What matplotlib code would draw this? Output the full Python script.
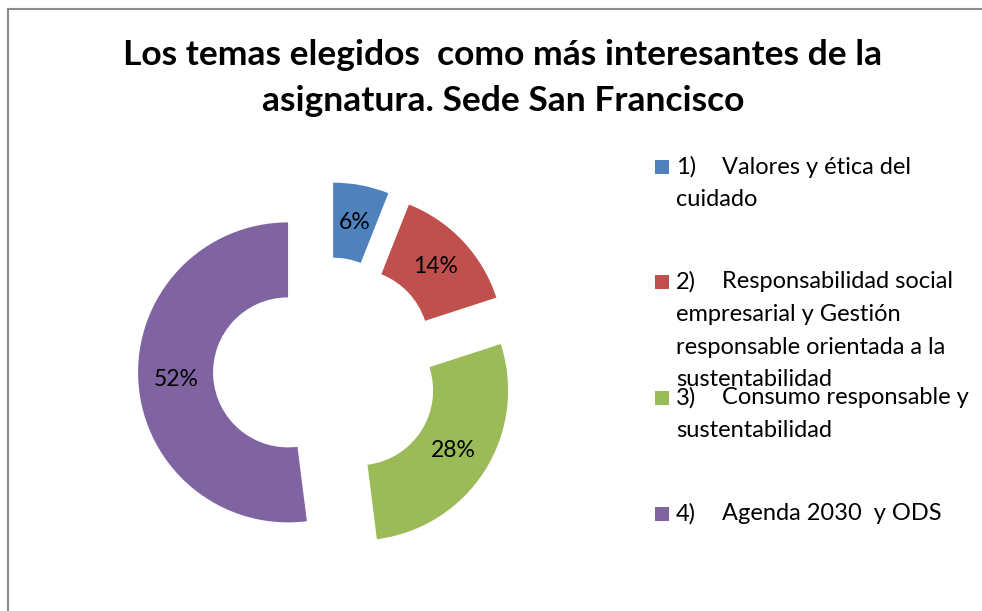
import matplotlib.pyplot as plt
from matplotlib.patches import Rectangle

# datos
valores = [6, 14, 28, 52]
colores = ['#4F81BD', '#C0504D', '#9BBB59', '#8064A2']
numeros = ['1)', '2)', '3)', '4)']
leyenda = [
    ['Valores y ética del', 'cuidado'],
    ['Responsabilidad social', 'empresarial y Gestión', 'responsable orientada a la', 'sustentabilidad'],
    ['Consumo responsable y', 'sustentabilidad'],
    ['Agenda 2030  y ODS'],
]
titulo = 'Los temas elegidos  como más interesantes de la\nasignatura. Sede San Francisco'

plt.rcParams['font.family'] = ['Lato', 'DejaVu Sans']

W, H = 982, 611
fig = plt.figure(figsize=(W / 100, H / 100), dpi=100)
ax = fig.add_axes([0, 0, 1, 1])

# anillo (todas las porciones separadas como en Excel)
cx, cy, R = 326, H - 370, 150
wedges, _, textos = ax.pie(valores, colors=colores, startangle=90, counterclock=False,
                           center=(cx, cy), radius=R, explode=[38] * 4,
                           wedgeprops=dict(width=R * 0.5, linewidth=0),
                           autopct='%1.0f%%', pctdistance=0.75)
for t in textos:
    t.set_fontsize(16.5)
    t.set_color('black')

ax.set_xlim(0, W)
ax.set_ylim(0, H)
ax.set_aspect('equal')
ax.axis('off')

# borde del área del gráfico
ax.add_patch(Rectangle((8, -20), W + 50, H - 9 + 20, fill=False, edgecolor='#8c8c8c', linewidth=1.5))

# título
ax.text(503, H - 78, titulo, ha='center', va='center', fontsize=25.5, fontweight='bold',
        linespacing=1.55)

# leyenda dibujada a mano (el solapamiento del punto 2 y 3 es igual al original)
y0 = [167, 282, 398, 514]
paso = 32.5
for i in range(len(valores)):
    ax.add_patch(Rectangle((655, H - y0[i] - 7), 14, 14, color=colores[i], linewidth=0))
    ax.text(676, H - y0[i], numeros[i], va='center', ha='left', fontsize=17)
    for j, linea in enumerate(leyenda[i]):
        x = 722 if j == 0 else 676
        ax.text(x, H - y0[i] - j * paso, linea, va='center', ha='left', fontsize=17)

fig.savefig('out.png', dpi=100)
